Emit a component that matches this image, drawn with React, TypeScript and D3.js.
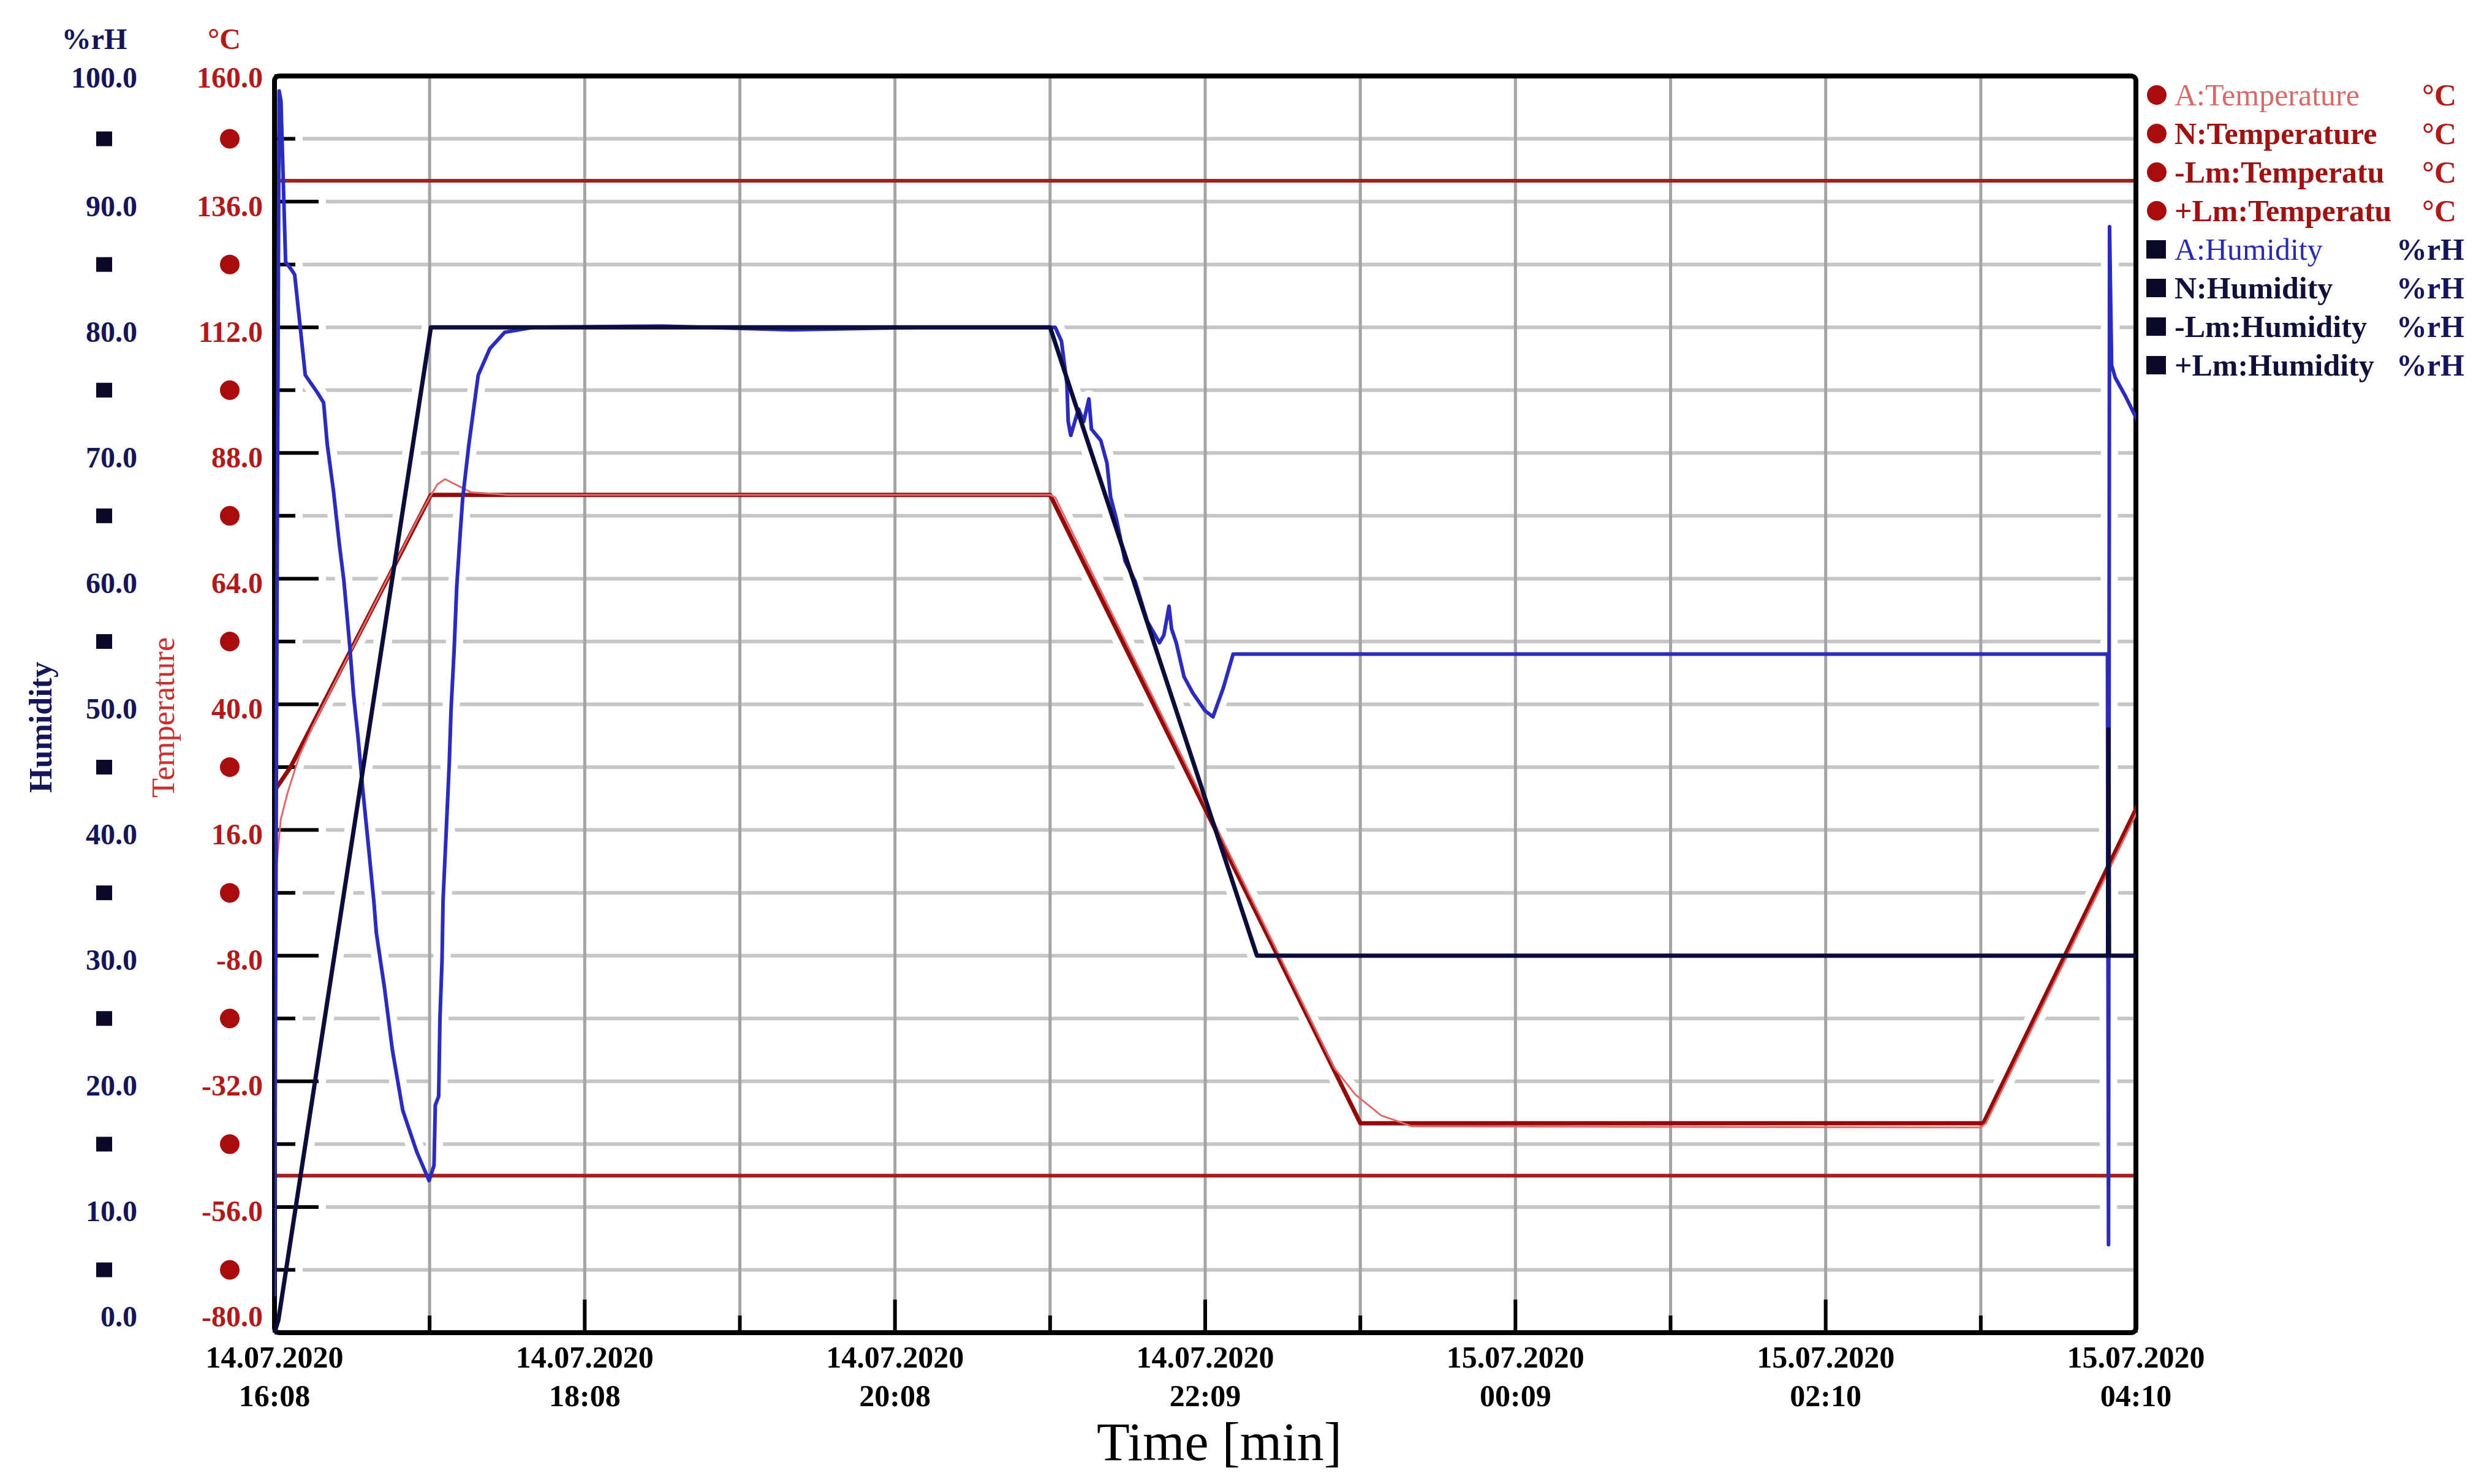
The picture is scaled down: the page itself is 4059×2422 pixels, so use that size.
import React, { useEffect } from "react";
import * as d3 from "d3";

// ---------- DATA ----------
// time in minutes after 14.07.2020 16:08
const timeTickLabels: [string, string][] = [
  ["14.07.2020", "16:08"],
  ["14.07.2020", "18:08"],
  ["14.07.2020", "20:08"],
  ["14.07.2020", "22:09"],
  ["15.07.2020", "00:09"],
  ["15.07.2020", "02:10"],
  ["15.07.2020", "04:10"],
];
const humTickLabels = ["0.0", "10.0", "20.0", "30.0", "40.0", "50.0", "60.0", "70.0", "80.0", "90.0", "100.0"];
const tempTickLabels = ["-80.0", "-56.0", "-32.0", "-8.0", "16.0", "40.0", "64.0", "88.0", "112.0", "136.0", "160.0"];

const nHumidity: [number, number][] = [
  [0, 0], [1.5, 1], [60.5, 80], [300, 80], [380, 30], [709.2, 30], [709.4, 48], [709.6, 30], [722, 30],
];

const aHumidity: [number, number][] = [
  [0, 3], [1.0, 60], [1.8, 98.8], [2.5, 98], [4.3, 85.2], [6.5, 84.6], [7.8, 84.2], [9.5, 80.9],
  [11.9, 76.2], [16.6, 74.8], [19, 74], [20.4, 70.7], [22.8, 67], [25.1, 62.7], [26.8, 59.9],
  [28, 57.2], [29.2, 54.4], [30.6, 50.7], [32.3, 47.4], [34.2, 43.1], [36.3, 38.8], [38.4, 34.4],
  [39.4, 31.8], [42.5, 27.5], [45.6, 22.5], [49.6, 17.7], [55, 14.4], [59.8, 12.1], [61.7, 13.3],
  [62.2, 18.1], [63.5, 18.8], [64, 25], [64.8, 29.6], [65.2, 34.4], [66.4, 39.8], [67.6, 45.3],
  [68.3, 49.6], [69.5, 54.4], [70.5, 59.4], [71.9, 63.8], [72.8, 66.4], [75.2, 70.7], [78.8, 76.2],
  [83.3, 78.3], [89, 79.6], [100, 80], [150, 80.1], [200, 79.8], [250, 80], [302, 80],
  [304.4, 78.9], [306.5, 75.5], [307, 72.5], [308, 71.4], [311, 73.5], [313, 72.5], [315, 74.3],
  [316, 71.9], [319.6, 71], [322, 69.2], [323.4, 66.5], [325.7, 64.7], [329, 61.4], [332.9, 59.8],
  [337.6, 56.6], [342.3, 54.9], [344, 55.5], [346, 57.8], [347, 56], [348.8, 54.9], [351.8, 52.2],
  [355.2, 50.9], [359.9, 49.5], [363, 49.0], [367, 51.3], [370.8, 54], [709, 54], [709.4, 7],
  [709.8, 88], [710.6, 77], [712, 76], [716, 74.5], [722, 72],
];

const nTemperature: [number, number][] = [
  [0, 23.5], [6.2, 28], [60.5, 80], [300, 80], [420, -40], [661, -40], [722, 22],
];

const aTemperature: [number, number][] = [
  [0, -6], [0.6, 8], [2.4, 18], [5, 23], [9.5, 30], [15, 36], [55, 75], [60, 79.5], [63, 82],
  [66, 83], [70, 82], [76, 80.5], [85, 80.2], [90, 80], [300, 80], [302, 79.5], [410, -29.5],
  [418, -34.5], [428, -38.5], [440, -40.6], [660, -40.8], [662, -40], [722, 21],
];

const tempUpperLimit = 140;
const tempLowerLimit = -50;

const legendItems = [
  { label: "A:Temperature", unit: "°C", kind: "circle", color: "#d46a6a", weight: "normal" },
  { label: "N:Temperature", unit: "°C", kind: "circle", color: "#a01212", weight: "bold" },
  { label: "-Lm:Temperatu", unit: "°C", kind: "circle", color: "#a01212", weight: "bold" },
  { label: "+Lm:Temperatu", unit: "°C", kind: "circle", color: "#a01212", weight: "bold" },
  { label: "A:Humidity", unit: "%rH", kind: "square", color: "#2a2ab0", weight: "normal" },
  { label: "N:Humidity", unit: "%rH", kind: "square", color: "#10103a", weight: "bold" },
  { label: "-Lm:Humidity", unit: "%rH", kind: "square", color: "#10103a", weight: "bold" },
  { label: "+Lm:Humidity", unit: "%rH", kind: "square", color: "#10103a", weight: "bold" },
];

// ---------- LAYOUT ----------
const W = 4059;
const H = 2422;
const L = 448, R = 3486, T = 124, B = 2175;
const FONT = "'Liberation Serif', 'Times New Roman', serif";

const HUM_COL = "#15155a";
const TEMP_COL = "#b01a1a";

export default function App() {
  useEffect(() => {
    document.body.style.margin = "0";
  }, []);

  const x = d3.scaleLinear().domain([0, 720]).range([L, R]);
  const yH = d3.scaleLinear().domain([0, 100]).range([B, T]);
  const yT = d3.scaleLinear().domain([-80, 160]).range([B, T]);

  const lineH = d3.line<[number, number]>().x((d) => x(d[0])).y((d) => yH(d[1]));
  const lineT = d3.line<[number, number]>().x((d) => x(d[0])).y((d) => yT(d[1]));

  const humSteps = d3.range(0, 101, 5);
  const hourTicks = d3.range(0, 721, 60);

  const dataPaths = [
    { d: lineT(nTemperature)!, w: 7 },
    { d: lineT(aTemperature)!, w: 3 },
    { d: lineH(aHumidity)!, w: 6 },
    { d: lineH(nHumidity)!, w: 8 },
  ];

  return (
    <svg width={W} height={H} viewBox={`0 0 ${W} ${H}`} style={{ display: "block", background: "#fff" }}>
      <defs>
        <clipPath id="plotClip">
          <rect x={L} y={T - 4} width={R - L} height={B - T + 8} />
        </clipPath>
      </defs>
      <rect x={0} y={0} width={W} height={H} fill="#fff" />

      {/* horizontal grid */}
      {humSteps.filter((v) => v > 0 && v < 100).map((v) => (
        <line key={"hg" + v} x1={L + (v % 10 === 0 ? 72 : 34) + 12} x2={R} y1={yH(v)} y2={yH(v)}
          stroke="#c6c6c6" strokeWidth={6} />
      ))}

      {/* white halos of data lines over horizontal grid */}
      <g clipPath="url(#plotClip)" fill="none" stroke="#fff" strokeLinejoin="round" strokeLinecap="round">
        {dataPaths.map((p, i) => (
          <path key={"halo" + i} d={p.d} strokeWidth={p.w + 22} />
        ))}
      </g>

      {/* vertical grid */}
      {hourTicks.filter((t) => t > 0 && t < 720).map((t) => (
        <line key={"vg" + t} x1={x(t)} x2={x(t)} y1={T} y2={B} stroke="#a4a4a4" strokeWidth={5} />
      ))}

      {/* bottom ticks */}
      {hourTicks.map((t, i) => (
        <line key={"bt" + t} x1={x(t)} x2={x(t)} y1={B} y2={B - (i % 2 === 0 ? 54 : 28)} stroke="#000" strokeWidth={6} />
      ))}

      {/* left ticks */}
      {humSteps.map((v) => (
        <line key={"lt" + v} x1={L} x2={L + (v % 10 === 0 ? 72 : 34)} y1={yH(v)} y2={yH(v)} stroke="#000" strokeWidth={6} />
      ))}

      {/* limit lines */}
      <line x1={L} x2={R} y1={yT(tempUpperLimit)} y2={yT(tempUpperLimit)} stroke="#a81c1c" strokeWidth={6} />
      <line x1={L} x2={R} y1={yT(tempLowerLimit)} y2={yT(tempLowerLimit)} stroke="#a81c1c" strokeWidth={6} />

      {/* frame */}
      <rect x={L} y={T} width={R - L} height={B - T} fill="none" stroke="#000" strokeWidth={8} rx={8} />

      {/* data lines */}
      <g clipPath="url(#plotClip)" fill="none" strokeLinejoin="round" strokeLinecap="round">
        <path d={lineT(nTemperature)!} stroke="#930c0c" strokeWidth={7} />
        <path d={lineT(aTemperature)!} stroke="#e06a6a" strokeWidth={3} />
        <path d={lineH(aHumidity)!} stroke="#2b2bbd" strokeWidth={6} />
        <path d={lineH(nHumidity)!} stroke="#0d0d3c" strokeWidth={7} />
      </g>

      {/* left axis labels */}
      <g fontFamily={FONT} fontWeight="bold" fontSize={48}>
        <text x={154} y={80} textAnchor="middle" fill={HUM_COL}>%rH</text>
        <text x={366} y={80} textAnchor="middle" fill={TEMP_COL}>°C</text>
        {humTickLabels.map((lab, i) => {
          const v = i * 10;
          const dy = v === 0 ? -27 : v === 100 ? 2 : 7;
          return (
            <g key={"hl" + v}>
              <text x={224} y={yH(v) + dy} textAnchor="end" dominantBaseline="central" fill={HUM_COL}>{lab}</text>
              <text x={429} y={yH(v) + dy} textAnchor="end" dominantBaseline="central" fill={TEMP_COL}>{tempTickLabels[i]}</text>
            </g>
          );
        })}
        {humSteps.filter((v) => v % 10 === 5).map((v) => (
          <g key={"mk" + v}>
            <rect x={170 - 13} y={yH(v) - 12} width={26} height={24} fill="#0a0a28" />
            <circle cx={375} cy={yH(v)} r={16} fill="#a80c0c" />
          </g>
        ))}
      </g>

      {/* axis titles */}
      <text transform="translate(84,1187) rotate(-90)" textAnchor="middle" fontFamily={FONT} fontSize={52}
        fontWeight="bold" fill={HUM_COL}>Humidity</text>
      <text transform="translate(284,1171) rotate(-90)" textAnchor="middle" fontFamily={FONT} fontSize={52}
        fill="#c83030">Temperature</text>

      {/* time tick labels */}
      <g fontFamily={FONT} fontWeight="bold" fontSize={50} fill="#000" textAnchor="middle">
        {timeTickLabels.map((lab, i) => (
          <g key={"tl" + i}>
            <text x={x(i * 120)} y={2232}>{lab[0]}</text>
            <text x={x(i * 120)} y={2295}>{lab[1]}</text>
          </g>
        ))}
      </g>
      <text x={1990} y={2383} textAnchor="middle" fontFamily={FONT} fontSize={88} fill="#000">Time [min]</text>

      {/* legend */}
      <g fontFamily={FONT} fontSize={50}>
        {legendItems.map((it, i) => {
          const cy = 155 + i * 63;
          const isTemp = it.kind === "circle";
          return (
            <g key={"lg" + i}>
              {isTemp ? (
                <circle cx={3520} cy={cy} r={16} fill="#a80c0c" />
              ) : (
                <rect x={3503} y={cy - 15} width={32} height={30} fill="#0a0a28" />
              )}
              <text x={3549} y={cy} dominantBaseline="central" fill={it.color} fontWeight={it.weight}>{it.label}</text>
              <text x={isTemp ? 4009 : 4022} y={cy} dominantBaseline="central" textAnchor="end"
                fill={isTemp ? TEMP_COL : HUM_COL} fontWeight="bold">{it.unit}</text>
            </g>
          );
        })}
      </g>
    </svg>
  );
}
